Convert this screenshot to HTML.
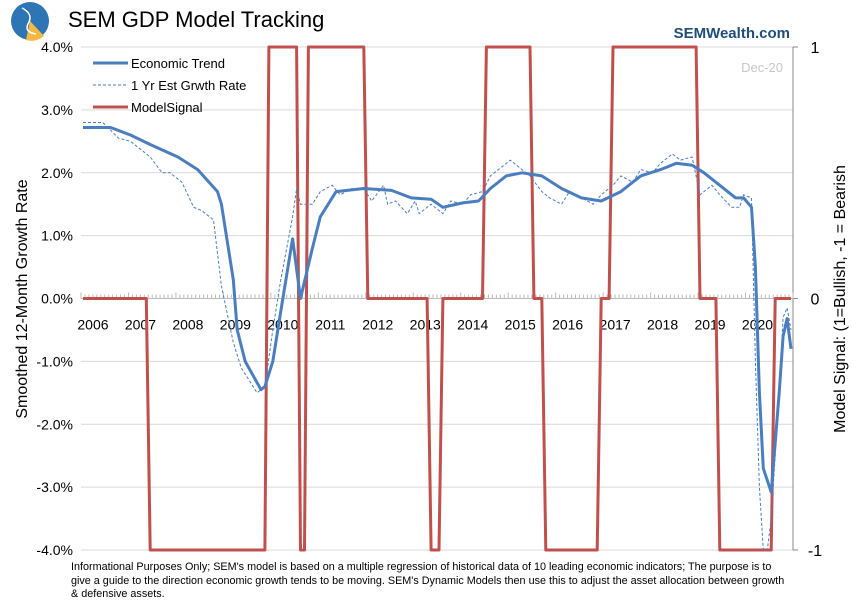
<!DOCTYPE html>
<html><head><meta charset="utf-8">
<style>
body{margin:0;background:#fff;font-family:"Liberation Sans",sans-serif;}
#wrap{position:relative;width:852px;height:612px;overflow:hidden;background:#fff}
svg text{font-family:"Liberation Sans",sans-serif}
</style></head>
<body>
<div id="wrap">
<svg id="chart" width="852" height="612" viewBox="0 0 852 612">
  <g>
    <circle cx="30" cy="21" r="19" fill="#2e75b6"/>
    <path d="M30 21 L44 36 A19 19 0 0 1 26 40 Z" fill="#f4b942"/>
    <path d="M22 8 Q34 14 28 24 Q24 32 36 34" stroke="#fff" stroke-width="1.5" fill="none"/>
  </g>
  <text x="68" y="27" font-size="22" fill="#000">SEM GDP Model Tracking</text>
  <text x="790" y="38" font-size="15" font-weight="bold" fill="#1f4e79" text-anchor="end">SEMWealth.com</text>
  <text x="783" y="72" font-size="13" fill="#c8c8c8" text-anchor="end">Dec-20</text>
  <g id="grid"></g>
  <g id="axes"></g>
  <g id="series"></g>
  <g>
    <line x1="93" y1="63" x2="128" y2="63" stroke="#4a7ebf" stroke-width="3"/>
    <text x="131" y="68" font-size="13">Economic Trend</text>
    <line x1="93" y1="85" x2="128" y2="85" stroke="#4a7ebf" stroke-width="1" stroke-dasharray="3,2"/>
    <text x="131" y="90" font-size="13">1 Yr Est Grwth Rate</text>
    <line x1="93" y1="107" x2="128" y2="107" stroke="#c0504d" stroke-width="3"/>
    <text x="131" y="112" font-size="13">ModelSignal</text>
  </g>
  <text transform="translate(27,299) rotate(-90)" font-size="16" text-anchor="middle">Smoothed 12-Month Growth Rate</text>
  <text transform="translate(845,299) rotate(-90)" font-size="16" text-anchor="middle">Model Signal: (1=Bullish, -1 = Bearish</text>
</svg>
<div style="position:absolute;left:71px;top:561px;width:722px;font-size:10.8px;line-height:13.5px;color:#000">Informational Purposes Only; SEM's model is based on a multiple regression of historical data of 10 leading economic indicators; The purpose is to give a guide to the direction economic growth tends to be moving. SEM's Dynamic Models then use this to adjust the asset allocation between growth &amp; defensive assets.</div>
</div>
<script>
const yearLabels=["2006","2007","2008","2009","2010","2011","2012","2013","2014","2015","2016","2017","2018","2019","2020"];
const leftTicks=[4,3,2,1,0,-1,-2,-3,-4];
const rightTicks=[1,0,-1];
const trendMonths=[0,7,12,17,24,29,34,35,38,39,41,45,46,48,50,53,55,58,60,64,71,78,83,88,91,96,100,103,107,111,116,121,126,131,136,141,146,150,154,157,161,165,167,169,170,171,172,174,176,177,178,179];
const trendValues=[2.72,2.72,2.6,2.45,2.25,2.05,1.7,1.5,0.3,-0.5,-1.0,-1.45,-1.4,-1.0,-0.2,0.95,0,0.8,1.3,1.7,1.75,1.72,1.6,1.58,1.45,1.52,1.55,1.75,1.95,2.0,1.95,1.75,1.6,1.55,1.7,1.95,2.05,2.15,2.12,2.0,1.8,1.6,1.6,1.45,0.5,-1.5,-2.7,-3.08,-1.5,-0.6,-0.32,-0.8];
const estMonths=[0,5,9,12,15,17,20,22,25,28,30,33,35,38,40,43,44,46,48,50,53,54,55,58,60,63,65,68,71,73,76,77,79,82,84,85,88,91,93,96,98,101,103,106,108,111,113,116,118,121,123,126,129,131,134,136,139,141,144,146,149,151,154,156,159,161,164,166,167,169,170,171,172,173,174,176,177,178,179];
const estValues=[2.8,2.8,2.55,2.5,2.35,2.25,2.0,2.0,1.85,1.45,1.4,1.25,0.2,-0.7,-1.1,-1.4,-1.5,-1.4,-0.5,0.3,1.3,1.75,1.5,1.5,1.7,1.8,1.65,1.75,1.75,1.55,1.8,1.5,1.55,1.35,1.55,1.35,1.5,1.35,1.55,1.5,1.65,1.7,1.95,2.1,2.2,2.05,1.95,1.7,1.6,1.5,1.7,1.6,1.5,1.65,1.8,1.95,1.85,2.05,2.0,2.15,2.3,2.2,2.25,1.65,1.8,1.65,1.45,1.45,1.65,1.6,-1.0,-3.0,-4.0,-4.0,-3.5,-1.5,-0.3,-0.15,-0.5];
const signalValues=[0,-1,1,-1,1,0,-1,0,1,0,-1,0,1,0,-1,0];
const signalRuns=[17,30,8,2,15,16,3,11,12,3,14,3,22,5,14,5];
const NS="http://www.w3.org/2000/svg";
const X0=81,X1=793,Y0=47,Y1=550;
const xm=m=>X0+(m+0.5)*(X1-X0)/180;
const yl=v=>Y0+(4-v)/8*(Y1-Y0);
const yr=v=>Y0+(1-v)/2*(Y1-Y0);
function mk(tag,attrs,parent){const e=document.createElementNS(NS,tag);for(const k in attrs)e.setAttribute(k,attrs[k]);parent.appendChild(e);return e;}
const grid=document.getElementById('grid'),axes=document.getElementById('axes'),series=document.getElementById('series');
leftTicks.forEach(v=>{
  const g=mk('line',{x1:X0,x2:X1,y1:yl(v),y2:yl(v),stroke:'#d9d9d9','stroke-width':1},grid);
  
  
  const t=mk('text',{x:73,y:yl(v)+5,'font-size':14,'text-anchor':'end'},axes);
  t.textContent=v.toFixed(1)+'%';
  
  
});
const ra=mk('line',{x1:X1,x2:X1,y1:Y0,y2:Y1,stroke:'#888','stroke-width':1},axes);


rightTicks.forEach(v=>{
  mk('line',{x1:X1,x2:X1+5,y1:yr(v),y2:yr(v),stroke:'#888'},axes);
  const t=mk('text',{x:X1+22,y:yr(v)+6,'font-size':16,'text-anchor':'middle'},axes);
  t.textContent=String(v);
  
  
});
const xa=mk('line',{x1:X0,x2:X1,y1:yl(0),y2:yl(0),stroke:'#bbb'},axes);


for(let m=0;m<=180;m++){const x=X0+m*(X1-X0)/180;mk('line',{x1:x,x2:x,y1:yl(0),y2:yl(0)-(m%12==0?6:4),stroke:'#bbb'},axes);}
yearLabels.forEach((s,i)=>{
  const t=mk('text',{x:xm(i*12)+10,y:yl(0)+31,'font-size':14,'text-anchor':'middle'},axes);
  t.textContent=s;
  
  
});
let sig=[];signalRuns.forEach((n,i)=>{for(let k=0;k<n;k++)sig.push(signalValues[i]);});
const sp=mk('path',{d:sig.map((v,m)=>(m?'L':'M')+xm(m).toFixed(1)+' '+yr(v).toFixed(1)).join(''),fill:'none',stroke:'#c0504d','stroke-width':3,'stroke-linejoin':'round'},series);


const clip=mk('clipPath',{id:'pc'},series);mk('rect',{x:X0,y:Y0,width:X1-X0,height:Y1-Y0},clip);
const ep=mk('path',{d:estMonths.map((m,i)=>(i?'L':'M')+xm(m).toFixed(1)+' '+yl(estValues[i]).toFixed(1)).join(''),fill:'none',stroke:'#4a7ebf','stroke-width':1,'stroke-dasharray':'3,2','clip-path':'url(#pc)'},series);


const tp=mk('path',{d:trendMonths.map((m,i)=>(i?'L':'M')+xm(m).toFixed(1)+' '+yl(trendValues[i]).toFixed(1)).join(''),fill:'none',stroke:'#4a7ebf','stroke-width':3,'stroke-linejoin':'round'},series);


</script>
</body></html>
